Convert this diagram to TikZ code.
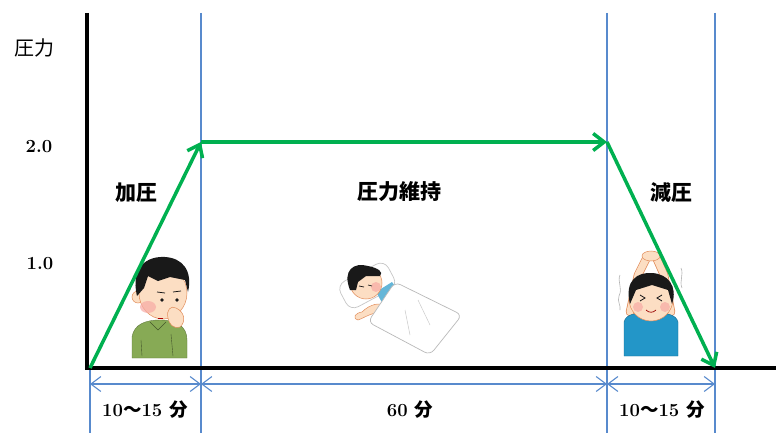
\documentclass[tikz,border=0pt]{standalone}
\usepackage{fontspec}
\newfontfamily\jp{Noto Sans CJK JP}
\usetikzlibrary{arrows.meta}
\definecolor{kgreen}{RGB}{0,176,80}
\definecolor{kblue}{RGB}{88,138,205}
\definecolor{skin}{RGB}{252,222,195}
\definecolor{skinline}{RGB}{225,140,90}
\definecolor{cheek}{RGB}{247,170,165}
\definecolor{shirtg}{RGB}{135,170,85}
\definecolor{shirtb}{RGB}{35,150,200}
\definecolor{hair}{RGB}{25,25,25}
\tikzset{
  jiku/.style={line width=3.5pt},
  sen/.style={kblue,line width=1.1pt},
  sunpo/.style={kblue,line width=1.1pt,{Straight Barb[length=10pt,width=15pt]}-{Straight Barb[length=10pt,width=15pt]}},
  atsu/.style={kgreen,line width=3.5pt,-{Straight Barb[length=11pt,width=17pt]}},
  num/.style={font=\fontsize{18.5}{22}\selectfont\bfseries,inner sep=0pt},
  phase/.style={font=\fontsize{21}{24}\selectfont\jp\bfseries,inner sep=0pt},
  face/.style={fill=skin,draw=skinline,line width=0.5pt},
}
\begin{document}
\begin{tikzpicture}[x=1pt,y=-1pt]
\useasboundingbox (0,0) rectangle (779,433);

% hiki
\coordinate (t0) at (90,368);
\coordinate (t1) at (201,142);
\coordinate (t2) at (607,142);
\coordinate (t3) at (715,368);

\draw[sen] (201,13) -- (201,433) (607,13) -- (607,433) (715,13) -- (715,433);
\draw[sen] (t0) -- (90,433);

% hito 1
\fill[shirtg,draw=shirtg!70!black,line width=0.4pt] (132,358) -- (132,337) .. controls (134,324) and (146,320) .. (160,320) .. controls (176,320) and (187,326) .. (187,340) -- (187,358) -- cycle;
\draw[shirtg!50!black,line width=0.4pt] (141,340) -- (142,356) (171,334) -- (173,356) (150,322) -- (158,330) -- (166,322);
\draw[face] (138,297) circle (6pt);
\draw[face] (163,293) ellipse (24pt and 26pt);
\fill[cheek,opacity=0.7] (148,307) ellipse (8pt and 6pt);
\fill[hair] (137,296) .. controls (130,266) and (148,256) .. (165,257) .. controls (182,258) and (193,270) .. (188,292) -- (185,280) -- (170,277) -- (158,281) -- (148,276) -- (144,288) -- cycle;
\fill[hair] (162,300) circle (1.8pt) (177,300) circle (1.8pt);
\draw[hair,line width=0.8pt] (157,292) -- (165,293) (173,292) -- (181,291);
\draw[red!70!black,line width=0.8pt] (158,318) -- (163,318);
\draw[face] (168,318) .. controls (166,310) and (171,305) .. (176,308) .. controls (185,312) and (186,322) .. (180,327) .. controls (173,329) and (169,324) .. (168,318) -- cycle;

% hito 2
\draw[gray!45,fill=white,line width=0.7pt,rounded corners=9pt,rotate around={28:(367,285)}] (340,271) rectangle (394,300);
\fill[shirtb!70!white] (376,292) -- (392,282) -- (402,296) -- (384,306) -- cycle;
\draw[face] (362,312) .. controls (370,304) and (380,302) .. (386,306) -- (383,312) .. controls (372,312) and (364,318) .. (358,320) .. controls (352,318) and (355,313) .. (362,312) -- cycle;
\draw[face] (366,283) circle (16pt);
\fill[hair] (350,290) .. controls (342,270) and (354,262) .. (368,266) .. controls (378,268) and (384,272) .. (380,276) -- (366,276) -- (358,282) -- (356,290) -- cycle;
\fill[cheek,opacity=0.7] (376,287) circle (5pt);
\draw[hair,line width=0.7pt] (359,286) -- (364,287) (368,285) -- (372,286);
\draw[gray!55,fill=white,line width=0.7pt,rounded corners=6pt] (395,282) -- (462,315) -- (430,355) -- (368,322) -- cycle;
\draw[gray!40,line width=0.5pt] (405,310) -- (410,335) (418,300) -- (430,325);

% hito 3
\draw[skinline,line width=8.5pt,line cap=round] (630,312) -- (638,275) -- (647,257) (671,312) -- (664,275) -- (656,257);
\draw[skin,line width=7pt,line cap=round] (630,312) -- (638,275) -- (647,257) (671,312) -- (664,275) -- (656,257);
\fill[skin,draw=skinline,line width=0.5pt] (651,256) ellipse (9pt and 5pt);
\fill[shirtb,draw=shirtb!70!black,line width=0.4pt] (624,356) -- (624,322) .. controls (626,314) and (636,312) .. (650,314) .. controls (665,312) and (676,314) .. (678,322) -- (678,356) -- cycle;
\draw[face] (651,299) circle (22pt);
\fill[cheek,opacity=0.7] (638,307) circle (5pt) (665,307) circle (5pt);
\fill[hair] (630,304) .. controls (624,280) and (638,272) .. (652,273) .. controls (668,274) and (678,286) .. (672,304) -- (668,290) -- (652,285) -- (636,290) -- cycle;
\draw[hair,line width=0.8pt] (640,295) -- (645,298) -- (640,301) (662,295) -- (657,298) -- (662,301);
\draw[red!60!black,line width=0.7pt] (646,310) .. controls (649,313) and (653,313) .. (656,310);
\draw[gray!60,line width=0.6pt] (620,275) .. controls (617,282) and (623,288) .. (619,296) .. controls (617,302) and (621,305) .. (620,310) (681,268) .. controls (684,275) and (679,281) .. (682,288);

% jiku
\draw[jiku] (87,13) -- (87,368) -- (776,368);

% atsuryoku
\draw[atsu] (t0) -- (t1);
\draw[atsu] (t1) -- (t2);
\draw[atsu] (t2) -- (t3);

% jikan
\draw[sunpo] (90,384) -- (201,384);
\draw[sunpo] (201,384) -- (607,384);
\draw[sunpo] (607,384) -- (715,384);

\node[font=\fontsize{20}{24}\selectfont\jp,inner sep=0pt] (ylab) at (34,48) {圧力};
\node[num] (v2) at (39,147) {2.0};
\node[num] (v1) at (40,264) {1.0};
\node[phase] (kaatsu) at (136,193) {加圧};
\node[phase] (iji) at (399,192) {圧力維持};
\node[phase] (genatsu) at (671,193) {減圧};
\node[num] (m1) at (145,410) {10{\jp 〜}15 {\jp 分}};
\node[num] (m2) at (410,410) {60 {\jp 分}};
\node[num] (m3) at (662,410) {10{\jp 〜}15 {\jp 分}};
\end{tikzpicture}
\end{document}
